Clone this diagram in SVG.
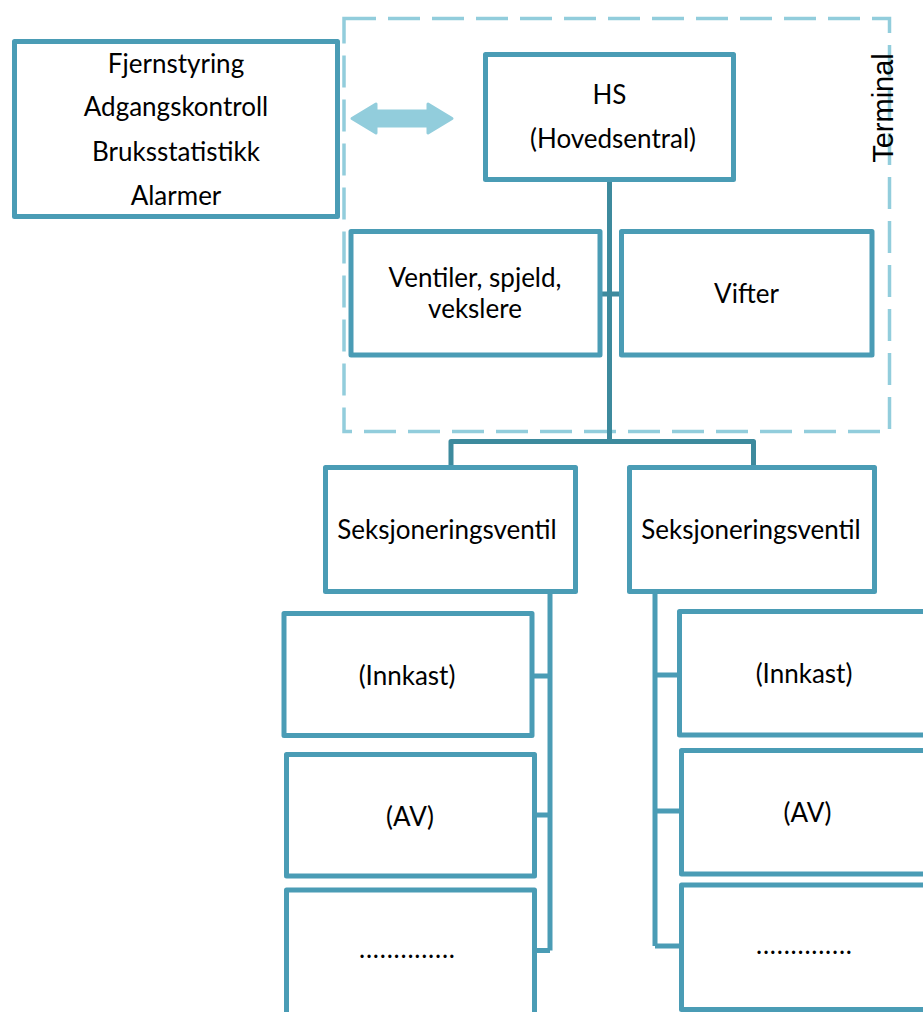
<svg xmlns="http://www.w3.org/2000/svg" width="923" height="1012" viewBox="0 0 923 1012">
<style>
.box{fill:#fff;stroke:#4A9CB5;stroke-width:5;stroke-linejoin:round}
.t{font-family:Lato,"Open Sans","Liberation Sans",sans-serif;font-size:26px;fill:#000;text-anchor:middle}
.trunk{fill:none;stroke:#3D8A9D;stroke-width:5;stroke-linejoin:round}
.col{fill:none;stroke:#4A9CB5;stroke-width:5;stroke-linejoin:round}
</style>
<rect width="923" height="1012" fill="#fff"/>
<g id="terminal">
<rect x="344" y="18.5" width="545.5" height="413" fill="none" stroke="#92CDDC" stroke-width="3.5" stroke-dasharray="32 12"/>
<text transform="translate(893,108) rotate(-90)" font-family="'Liberation Sans',Arial,sans-serif" font-size="29" text-anchor="middle">Terminal</text>
</g>
<g id="connectors">
<path class="trunk" d="M609.5,180 V441.5 M451,467 V441.5 H753.5 V467 M600,294 H621.5"/>
<path class="col" d="M532,676 H550 M534,815 H550 M534,950.5 H550 M550,592 V950.5"/>
<path class="col" d="M680,675 H655 M682,811 H655 M682,946 H655 M655,592 V946"/>
<path d="M352,118.5 L376,104 L376,111 L428,111 L428,104 L452,118.5 L428,133 L428,126 L376,126 L376,133 Z" fill="#92CDDC" stroke="#92CDDC" stroke-width="3" stroke-linejoin="round"/>
</g>
<g id="remote">
<rect class="box" x="14.5" y="41.5" width="323" height="175"/>
<text class="t" x="176" y="73">Fjernstyring</text>
<text class="t" x="176" y="116">Adgangskontroll</text>
<text class="t" x="176" y="161">Bruksstatistikk</text>
<text class="t" x="176" y="205">Alarmer</text>
</g>
<g id="hs">
<rect class="box" x="485.5" y="54.5" width="248" height="125"/>
<text class="t" x="609.5" y="104">HS</text>
<text class="t" x="613" y="148">(Hovedsentral)</text>
</g>
<g id="ventiler">
<rect class="box" x="351" y="231.5" width="249" height="123.5"/>
<text class="t" x="475" y="287">Ventiler, spjeld,</text>
<text class="t" x="475" y="318">vekslere</text>
</g>
<g id="vifter">
<rect class="box" x="621.5" y="231.5" width="250.5" height="123.5"/>
<text class="t" x="746.5" y="303">Vifter</text>
</g>
<g id="seksj1">
<rect class="box" x="325.5" y="467.5" width="250" height="124"/>
<text class="t" x="447" y="539">Seksjoneringsventil</text>
</g>
<g id="seksj2">
<rect class="box" x="629.5" y="467.5" width="245" height="124"/>
<text class="t" x="751" y="539">Seksjoneringsventil</text>
</g>
<g id="innkast1">
<rect class="box" x="284" y="613.5" width="248" height="122"/>
<text class="t" x="407" y="685">(Innkast)</text>
</g>
<g id="av1">
<rect class="box" x="286.5" y="754.5" width="248" height="121.5"/>
<text class="t" x="410" y="826">(AV)</text>
</g>
<g id="dots1">
<rect class="box" x="286.5" y="890" width="248" height="140"/>
<text class="t" x="407" y="958" textLength="96" lengthAdjust="spacing">..............</text>
</g>
<g id="innkast2">
<rect class="box" x="679.5" y="611.5" width="270" height="123.5"/>
<text class="t" x="804" y="683">(Innkast)</text>
</g>
<g id="av2">
<rect class="box" x="681.5" y="750.5" width="270" height="123.5"/>
<text class="t" x="807.5" y="822">(AV)</text>
</g>
<g id="dots2">
<rect class="box" x="681.5" y="885" width="270" height="124.5"/>
<text class="t" x="804" y="954" textLength="96" lengthAdjust="spacing">..............</text>
</g>
</svg>
